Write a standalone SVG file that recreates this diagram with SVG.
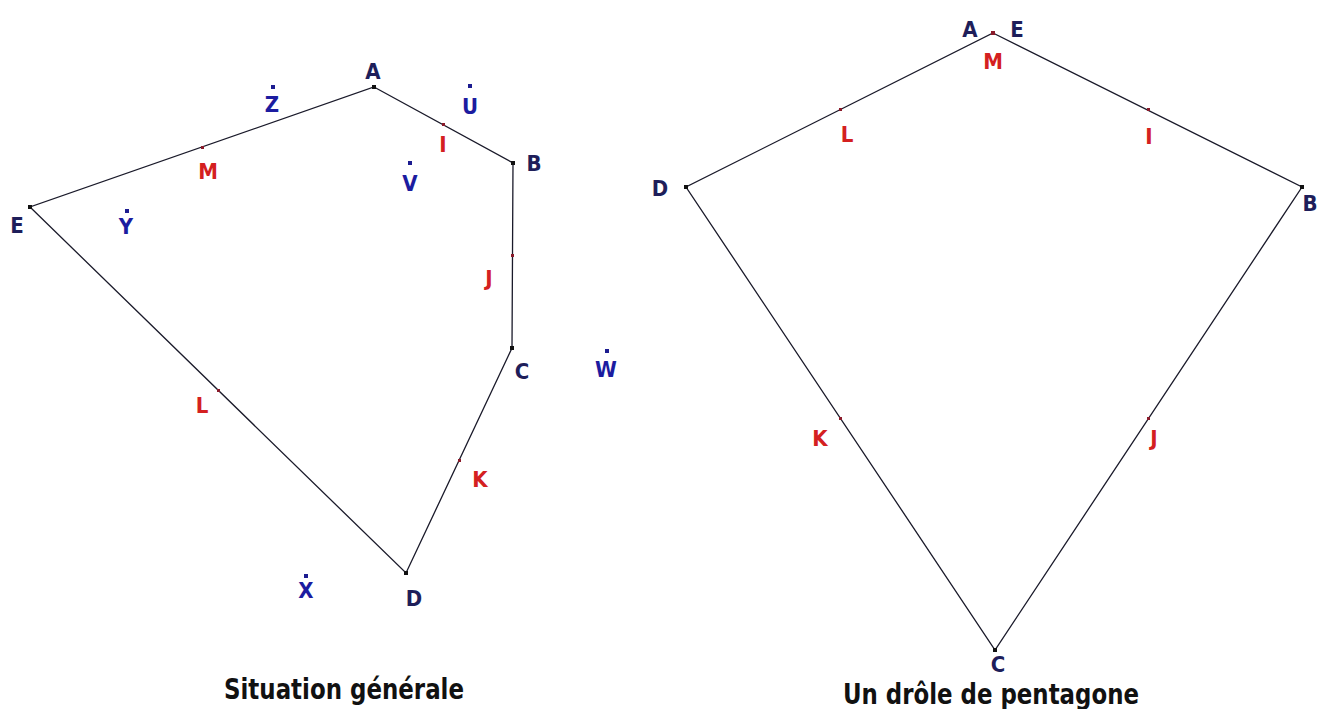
<svg xmlns="http://www.w3.org/2000/svg" width="1326" height="709" viewBox="0 0 1326 709">
<style>
.seg{stroke:#1a1a2a;stroke-width:1.3;fill:none}
text{font-family:"DejaVu Sans Condensed","DejaVu Sans","Liberation Sans",sans-serif;font-weight:bold;font-stretch:condensed;text-anchor:middle}
.lab{font-size:22px;fill:#1e1e5a}
.mid{font-size:22px;fill:#d42020}
.free{font-size:22px;fill:#1c1ca0}
.title{font-size:28px;fill:#111;text-anchor:start}
.v{fill:#111}
.m{fill:#8a1a2a}
.f{fill:#1c1c90}
</style>
<rect width="1326" height="709" fill="#fff"/>
<g id="connectors">
<polygon class="seg" points="374,87 513,163 512,348 406,573 30,207"/>
<polygon class="seg" points="993,33 1302,187 995,650 686,187"/>
</g>
<g id="left">
<g id="L_A"><rect class="v" x="372" y="85" width="4" height="4"/><text class="lab" x="373" y="79">A</text></g>
<g id="L_B"><rect class="v" x="511" y="161" width="4" height="4"/><text class="lab" x="534" y="171">B</text></g>
<g id="L_C"><rect class="v" x="510" y="346" width="4" height="4"/><text class="lab" x="522" y="379">C</text></g>
<g id="L_D"><rect class="v" x="404" y="571" width="4" height="4"/><text class="lab" x="414" y="606">D</text></g>
<g id="L_E"><rect class="v" x="28" y="205" width="4" height="4"/><text class="lab" x="17" y="233">E</text></g>
<g id="L_I"><rect class="m" x="442" y="123" width="3" height="3"/><text class="mid" x="443" y="152">I</text></g>
<g id="L_J"><rect class="m" x="511" y="254" width="3" height="3"/><text class="mid" x="489" y="286">J</text></g>
<g id="L_K"><rect class="m" x="458" y="459" width="3" height="3"/><text class="mid" x="480" y="487">K</text></g>
<g id="L_L"><rect class="m" x="217" y="389" width="3" height="3"/><text class="mid" x="202" y="413">L</text></g>
<g id="L_M"><rect class="m" x="201" y="146" width="3" height="3"/><text class="mid" x="208" y="179">M</text></g>
<g id="L_U"><rect class="f" x="468" y="84" width="4" height="4"/><text class="free" x="470" y="114">U</text></g>
<g id="L_V"><rect class="f" x="408" y="161" width="4" height="4"/><text class="free" x="410" y="191">V</text></g>
<g id="L_W"><rect class="f" x="605" y="349" width="4" height="4"/><text class="free" x="606" y="377">W</text></g>
<g id="L_X"><rect class="f" x="304" y="574" width="4" height="4"/><text class="free" x="306" y="598">X</text></g>
<g id="L_Y"><rect class="f" x="125" y="209" width="4" height="4"/><text class="free" x="126" y="234">Y</text></g>
<g id="L_Z"><rect class="f" x="271" y="85" width="4" height="4"/><text class="free" x="272" y="112">Z</text></g>
<text class="title" x="224" y="699" textLength="240" lengthAdjust="spacingAndGlyphs">Situation générale</text>
</g>
<g id="right">
<g id="R_AE"><rect class="m" x="991" y="31" width="4" height="4"/><text class="lab" x="970" y="37">A</text><text class="lab" x="1017" y="37">E</text><text class="mid" x="993" y="69">M</text></g>
<g id="R_B"><rect class="v" x="1300" y="185" width="4" height="4"/><text class="lab" x="1310" y="211">B</text></g>
<g id="R_C"><rect class="v" x="993" y="648" width="4" height="4"/><text class="lab" x="998" y="672">C</text></g>
<g id="R_D"><rect class="v" x="684" y="185" width="4" height="4"/><text class="lab" x="660" y="196">D</text></g>
<g id="R_L"><rect class="m" x="839" y="108" width="3" height="3"/><text class="mid" x="847" y="142">L</text></g>
<g id="R_I"><rect class="m" x="1147" y="108" width="3" height="3"/><text class="mid" x="1149" y="144">I</text></g>
<g id="R_K"><rect class="m" x="839" y="417" width="3" height="3"/><text class="mid" x="820" y="446">K</text></g>
<g id="R_J"><rect class="m" x="1147" y="417" width="3" height="3"/><text class="mid" x="1154" y="446">J</text></g>
<text class="title" x="843" y="704" textLength="296" lengthAdjust="spacingAndGlyphs">Un drôle de pentagone</text>
</g>
</svg>
